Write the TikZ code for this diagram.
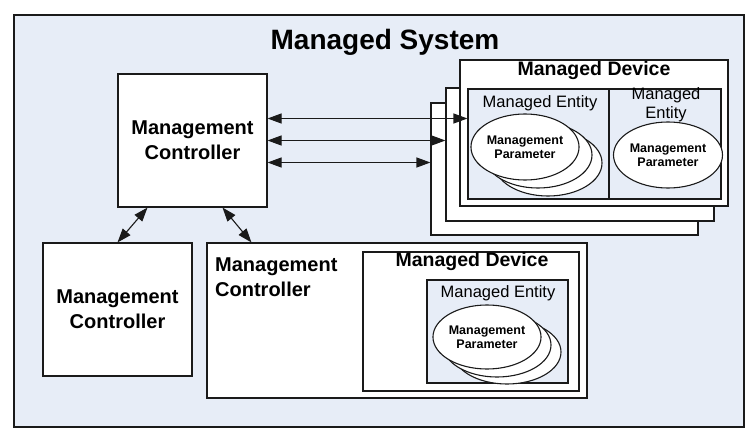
\documentclass[tikz,border=0pt]{standalone}
\usepackage{fontspec}
\setmainfont{Liberation Sans}
\usetikzlibrary{arrows.meta, positioning, shapes.geometric}
\definecolor{msysfill}{HTML}{E7EDF7}
\definecolor{msysline}{HTML}{1A1A1A}
\tikzset{
  sysbox/.style={rectangle, draw=msysline, line width=1.1pt, fill=msysfill, inner sep=0pt},
  ctrl/.style={rectangle, draw=msysline, line width=1.1pt, fill=white, inner sep=0pt,
    minimum width=149pt, minimum height=133pt, font=\bfseries\fontsize{20}{25}\selectfont, align=center},
  dev/.style={rectangle, draw=msysline, line width=1.1pt, fill=white, inner sep=0pt},
  ent/.style={rectangle, draw=msysline, line width=1.1pt, fill=msysfill, inner sep=0pt},
  param/.style={ellipse, draw=msysline, line width=1.1pt, fill=white, inner sep=0pt,
    minimum width=108pt, minimum height=64pt, font=\bfseries\fontsize{12.5}{14}\selectfont, align=center},
  devtitle/.style={font=\bfseries\fontsize{19.5}{22}\selectfont},
  enttitle/.style={font=\fontsize{16.5}{19}\selectfont, align=center},
  dblarr/.style={{Triangle[length=14pt,width=10pt]}-{Triangle[length=14pt,width=10pt]}, line width=1.1pt, msysline},
}
\begin{document}
\begin{tikzpicture}[x=1pt, y=-1pt]
    \useasboundingbox (0,0) rectangle (755,439);
    % System frame
    \node[sysbox, minimum width=730pt, minimum height=412pt] (sys) at (379,221) {};
    \node[font=\bfseries\fontsize{28}{32}\selectfont] (systitle) at (385,42) {Managed System};

    % Controllers
    \node[ctrl] (ctrlA) at (192.5,140.5) {Management\\Controller};
    \node[ctrl] (ctrlB) at (117.5,309.5) {Management\\Controller};

    % Lower device with its controller
    \node[dev, minimum width=380pt, minimum height=155pt] (devB) at (397,320.5) {};
    \node[anchor=north west, inner sep=0pt, align=left, font=\bfseries\fontsize{20}{25}\selectfont]
      (devBlabel) at (215,258) {Management\\Controller};
    \node[dev, minimum width=216pt, minimum height=139pt] (devBin) at (471,321.5) {};
    \node[devtitle] (devBtitle) at (472,261) {Managed Device};
    \node[ent, minimum width=141pt, minimum height=103pt] (entB) at (497.5,331.5) {};
    \node[enttitle] (entBtitle) at (498,293) {Managed Entity};
    \node[param] (parB3) at (507,352) {};
    \node[param] (parB2) at (497,345) {};
    \node[param] (parB1) at (487,337) {Management\\Parameter};

    % Upper stacked devices
    \node[dev, minimum width=267pt, minimum height=132pt] (devA3) at (564.5,169) {};
    \node[dev, minimum width=268pt, minimum height=133pt] (devA2) at (580,154.5) {};
    \node[dev, minimum width=268pt, minimum height=146pt] (devA1) at (594,133) {};
    \node[devtitle] (devAtitle) at (594,71) {Managed Device};
    \node[ent, minimum width=141pt, minimum height=110pt] (entA1) at (538.5,144) {};
    \node[ent, minimum width=112pt, minimum height=110pt] (entA2) at (665,144) {};
    \node[enttitle] (entA1title) at (540,103) {Managed Entity};
    \node[enttitle] (entA2title) at (666,104.5) {Managed\\Entity};
    \node[param, minimum height=66pt] (parA3) at (548,163) {};
    \node[param, minimum height=66pt] (parA2) at (538,155) {};
    \node[param, minimum height=66pt] (parA1) at (525,147) {Management\\Parameter};
    \node[param, minimum width=109pt, minimum height=66pt] (parA4) at (668,155) {Management\\Parameter};

    % Links
    \draw[dblarr] ([yshift=22pt]ctrlA.east) -- ([yshift=22pt]ctrlA.east -| entA1.west);
    \draw[dblarr] (ctrlA.east) -- (ctrlA.east -| devA2.west);
    \draw[dblarr] ([yshift=-22pt]ctrlA.east) -- ([yshift=-22pt]ctrlA.east -| devA3.west);
    \draw[dblarr] ([xshift=-45pt]ctrlA.south) -- (ctrlB.north);
    \draw[dblarr] ([xshift=30pt]ctrlA.south) -- ([xshift=45pt]devB.north west);
  \end{tikzpicture}
\end{document}
